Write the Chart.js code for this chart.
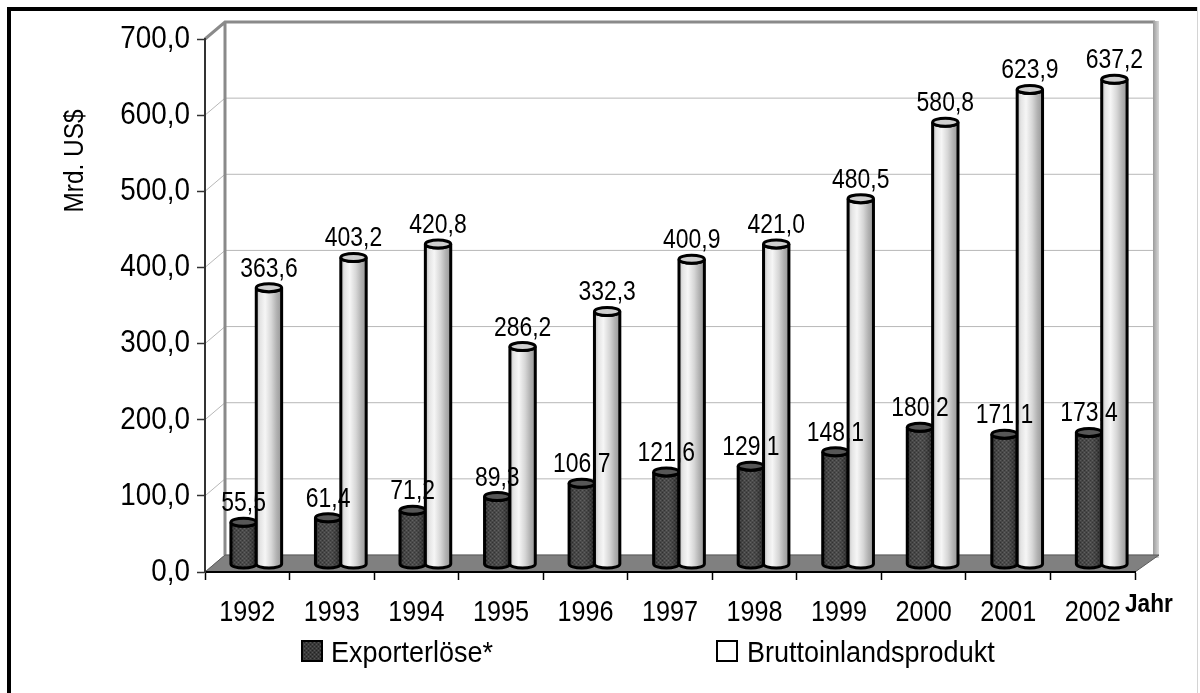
<!DOCTYPE html>
<html lang="de">
<head>
<meta charset="UTF-8">
<title>Exporterlöse und Bruttoinlandsprodukt</title>
<script src="https://cdn.jsdelivr.net/npm/chart.js"></script>
<style>
  html, body { margin: 0; padding: 0; background: #fff; }
</style>
</head>
<body>
<canvas id="chart" width="1200" height="693"></canvas>
<script>
  // Daten aus der Grafik (Mrd. US$)
  const years = ['1992', '1993', '1994', '1995', '1996', '1997', '1998', '1999', '2000', '2001', '2002'];
  const exportValues = [55.5, 61.4, 71.2, 89.3, 106.7, 121.6, 129.1, 148.1, 180.2, 171.1, 173.4];
  const gdpValues = [363.6, 403.2, 420.8, 286.2, 332.3, 400.9, 421.0, 480.5, 580.8, 623.9, 637.2];
  const seriesNames = ['Exporterlöse*', 'Bruttoinlandsprodukt'];
  const yMin = 0, yMax = 700, yStep = 100;

  const FONT = '"Liberation Sans", Arial, sans-serif';
  const fmt = v => v.toFixed(1).replace('.', ',');

  // 3D-Versatz: Rückwand und Säulen
  const WDX = 20, WDY = -17;
  const DX = 9, DY = -7.5;

  // schmale Schrift (wie Arial Narrow) durch horizontales Stauchen
  function narrowText(ctx, text, x, y, size, sx, align, baseline, weight) {
    ctx.save();
    ctx.translate(x, y);
    ctx.scale(sx, 1);
    ctx.font = (weight || '') + ' ' + size + 'px ' + FONT;
    ctx.fillStyle = '#000';
    ctx.textAlign = align;
    ctx.textBaseline = baseline;
    ctx.fillText(text, 0, 0);
    ctx.restore();
  }

  // Raster-Muster für die dunklen Säulen
  function makePattern(ctx) {
    const c = document.createElement('canvas');
    c.width = 4; c.height = 4;
    const p = c.getContext('2d');
    p.fillStyle = '#3a3a3a'; p.fillRect(0, 0, 4, 4);
    p.fillStyle = '#555';
    p.fillRect(0, 0, 1, 1); p.fillRect(2, 2, 1, 1);
    p.fillStyle = '#222';
    p.fillRect(2, 0, 1, 1); p.fillRect(0, 2, 1, 1);
    return ctx.createPattern(c, 'repeat');
  }

  function drawCylinder(ctx, cx, top, base, w, dark, pattern) {
    const rx = w / 2, ry = 4;
    const l = cx - rx, r = cx + rx;
    ctx.save();
    ctx.beginPath();
    ctx.moveTo(l, top);
    ctx.lineTo(l, base);
    ctx.ellipse(cx, base, rx, ry, 0, Math.PI, 0, true);
    ctx.lineTo(r, top);
    ctx.ellipse(cx, top, rx, ry, 0, 0, Math.PI, false);
    ctx.closePath();
    if (dark) {
      ctx.fillStyle = pattern;
      ctx.fill();
      const g = ctx.createLinearGradient(l, 0, r, 0);
      g.addColorStop(0, 'rgba(0,0,0,0.25)');
      g.addColorStop(0.35, 'rgba(255,255,255,0.06)');
      g.addColorStop(1, 'rgba(0,0,0,0.35)');
      ctx.fillStyle = g;
      ctx.fill();
    } else {
      const g = ctx.createLinearGradient(l, 0, r, 0);
      g.addColorStop(0, '#bcbcbc');
      g.addColorStop(0.15, '#e4e4e4');
      g.addColorStop(0.35, '#f6f6f6');
      g.addColorStop(0.6, '#d6d6d6');
      g.addColorStop(0.8, '#b2b2b2');
      g.addColorStop(1, '#979797');
      ctx.fillStyle = g;
      ctx.fill();
    }
    ctx.lineWidth = 3;
    ctx.strokeStyle = '#000';
    ctx.stroke();
    // Deckel
    ctx.beginPath();
    ctx.ellipse(cx, top, rx, ry, 0, 0, Math.PI * 2);
    ctx.fillStyle = dark ? '#575757' : '#cfcfcf';
    ctx.fill();
    ctx.stroke();
    ctx.restore();
  }

  const deko = {
    id: 'deko',
    beforeDraw(chart) {
      const { ctx, chartArea: a, scales: { y } } = chart;
      ctx.save();
      ctx.fillStyle = '#fff';
      ctx.fillRect(0, 0, chart.width, chart.height);
      // Rahmen
      ctx.fillStyle = '#000';
      ctx.fillRect(7, 7, 1191, 4);
      ctx.fillRect(7, 7, 4, 686);
      ctx.fillStyle = '#d4d4d4';
      ctx.fillRect(1197, 7, 1, 686);

      // Gitterlinien auf Rückwand + Seitenwand
      ctx.lineWidth = 1;
      ctx.strokeStyle = '#b8b8b8';
      y.ticks.forEach(t => {
        const py = y.getPixelForValue(t.value);
        ctx.beginPath();
        ctx.moveTo(a.left, py);
        ctx.lineTo(a.left + WDX, py + WDY);
        ctx.lineTo(a.right + WDX, py + WDY);
        ctx.stroke();
      });
      // Kanten der Wand
      const topY = y.getPixelForValue(yMax);
      ctx.strokeStyle = '#8a8a8a';
      ctx.lineWidth = 3;
      ctx.beginPath();
      ctx.moveTo(a.left, topY);
      ctx.lineTo(a.left + WDX, topY + WDY);
      ctx.lineTo(a.right + WDX, topY + WDY);
      ctx.moveTo(a.left + WDX, topY + WDY);
      ctx.lineTo(a.left + WDX, a.bottom + WDY);
      ctx.stroke();
      // rechte Wandkante mit Schatten
      const sx = a.right + WDX;
      const sg = ctx.createLinearGradient(sx - 2, 0, sx + 4, 0);
      sg.addColorStop(0, '#9a9a9a');
      sg.addColorStop(1, '#d8d8d8');
      ctx.fillStyle = sg;
      ctx.fillRect(sx - 2, topY + WDY - 1, 6, a.bottom - topY + 4);

      // Boden
      ctx.fillStyle = '#808080';
      ctx.beginPath();
      ctx.moveTo(a.left, a.bottom);
      ctx.lineTo(a.right, a.bottom);
      ctx.lineTo(a.right + WDX + 4, a.bottom + WDY);
      ctx.lineTo(a.left + WDX, a.bottom + WDY);
      ctx.closePath();
      ctx.fill();
      ctx.strokeStyle = '#5a5a5a';
      ctx.lineWidth = 1;
      ctx.stroke();
      ctx.restore();
    },
    afterDatasetsDraw(chart) {
      const ctx = chart.ctx;
      const pattern = makePattern(ctx);
      const n = chart.data.labels.length;
      for (let i = 0; i < n; i++) {
        chart.data.datasets.forEach((ds, di) => {
          const el = chart.getDatasetMeta(di).data[i];
          drawCylinder(ctx, el.x + DX, el.y + DY, el.base + DY, el.width, di === 0, pattern);
        });
      }
      // Werte über den Säulen
      chart.data.datasets.forEach((ds, di) => {
        chart.getDatasetMeta(di).data.forEach((el, i) => {
          narrowText(ctx, fmt(ds.data[i]), el.x + DX, el.y + DY - 11, 27, 0.85, 'center', 'alphabetic');
        });
      });
    },
    afterDraw(chart) {
      const ctx = chart.ctx;
      const { x, y } = chart.scales;

      // Achsenbeschriftungen
      y.ticks.forEach((t, i) => {
        narrowText(ctx, t.label, 190, y.getPixelForTick(i), 32, 0.87, 'right', 'middle');
      });
      x.ticks.forEach((t, i) => {
        narrowText(ctx, t.label, x.getPixelForTick(i), 621, 30, 0.84, 'center', 'alphabetic');
      });

      // Achsentitel
      ctx.save();
      ctx.translate(75, 161);
      ctx.rotate(-Math.PI / 2);
      narrowText(ctx, 'Mrd. US$', 0, 0, 28, 0.87, 'center', 'middle');
      ctx.restore();
      narrowText(ctx, 'Jahr', 1125, 612, 26, 0.87, 'left', 'alphabetic', 'bold');

      // Legende
      ctx.save();
      const pattern = makePattern(ctx);
      ctx.lineWidth = 2;
      ctx.strokeStyle = '#000';
      ctx.fillStyle = pattern;
      ctx.fillRect(302, 641, 20, 20);
      ctx.strokeRect(302, 641, 20, 20);
      ctx.fillStyle = '#fff';
      ctx.fillRect(717, 641, 20, 20);
      ctx.strokeRect(717, 641, 20, 20);
      ctx.restore();
      narrowText(ctx, chart.data.datasets[0].label, 331, 662, 30, 0.9, 'left', 'alphabetic');
      narrowText(ctx, chart.data.datasets[1].label, 747, 662, 30, 0.9, 'left', 'alphabetic');
    }
  };

  new Chart(document.getElementById('chart'), {
    type: 'bar',
    data: {
      labels: years,
      datasets: [
        { label: seriesNames[0], data: exportValues, backgroundColor: 'rgba(0,0,0,0)', borderWidth: 0 },
        { label: seriesNames[1], data: gdpValues, backgroundColor: 'rgba(0,0,0,0)', borderWidth: 0 }
      ]
    },
    options: {
      responsive: false,
      animation: false,
      categoryPercentage: 0.6,
      barPercentage: 1.0,
      layout: { padding: { left: 20, right: 65, top: 39, bottom: 61 } },
      plugins: {
        legend: { display: false },
        tooltip: { enabled: false }
      },
      scales: {
        x: {
          offset: true,
          grid: { offset: true, drawOnChartArea: false, drawTicks: true, tickLength: 8, tickColor: '#000', tickWidth: 1.5 },
          border: { display: true, color: '#000', width: 2 },
          ticks: { display: false, autoSkip: false, maxRotation: 0 },
          afterFit(scale) { scale.height = 60; }
        },
        y: {
          min: yMin,
          max: yMax,
          ticks: { display: false, stepSize: yStep, callback: v => fmt(v) },
          grid: { drawOnChartArea: false, drawTicks: true, tickLength: 8, tickColor: '#333', tickWidth: 1.5 },
          border: { display: true, color: '#333', width: 2 },
          afterFit(scale) { scale.width = 185; }
        }
      }
    },
    plugins: [deko]
  });
</script>
</body>
</html>
